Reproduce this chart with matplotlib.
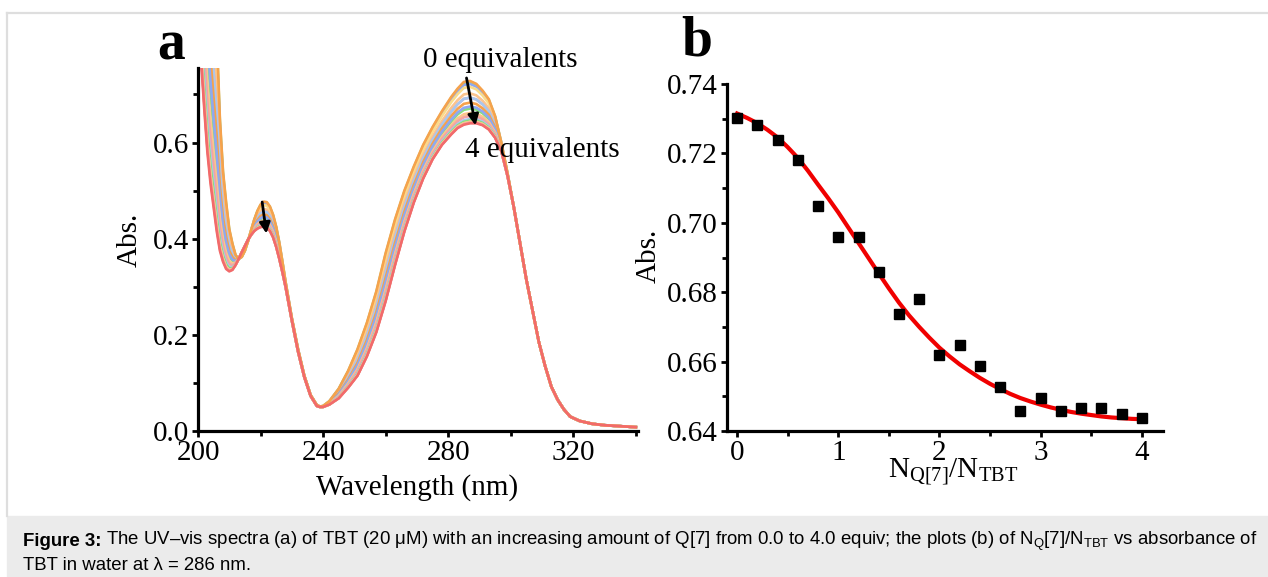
import matplotlib
matplotlib.use('Agg')
import numpy as np
import matplotlib.pyplot as plt
from matplotlib.patches import Rectangle
from matplotlib.lines import Line2D
from matplotlib.ticker import MultipleLocator, FormatStrFormatter

W, H = 1268, 577

# panel b: absorbance at 286 nm vs N_Q[7]/N_TBT
ratio = [0.0, 0.2, 0.4, 0.6, 0.8, 1.0, 1.2, 1.4, 1.6, 1.8, 2.0,
         2.2, 2.4, 2.6, 2.8, 3.0, 3.2, 3.4, 3.6, 3.8, 4.0]
abs286 = [0.7301, 0.7282, 0.7240, 0.7181, 0.7049, 0.6960, 0.6960, 0.6859,
          0.6738, 0.6779, 0.6618, 0.6649, 0.6588, 0.6527, 0.6458, 0.6496,
          0.6458, 0.6467, 0.6467, 0.6450, 0.6438]

# fitted curve (red)
fit_ratio = [0.0, 0.1, 0.2, 0.3, 0.4, 0.5, 0.6, 0.7, 0.8, 0.9, 1.0,
             1.1, 1.2, 1.3, 1.4, 1.5, 1.6, 1.7, 1.8, 1.9, 2.0,
             2.1, 2.2, 2.3, 2.4, 2.5, 2.6, 2.7, 2.8, 2.9, 3.0,
             3.1, 3.2, 3.3, 3.4, 3.5, 3.6, 3.7, 3.8, 3.9, 4.0]
fit_abs = [0.7315, 0.7302, 0.7287, 0.7268, 0.7246, 0.7218, 0.7187, 0.7150,
           0.7110, 0.7071, 0.7030, 0.6986, 0.6942, 0.6898, 0.6854, 0.6811,
           0.6770, 0.6733, 0.6700, 0.6669, 0.6640, 0.6615, 0.6592, 0.6572,
           0.6553, 0.6536, 0.6521, 0.6507, 0.6495, 0.6485, 0.6476, 0.6468,
           0.6461, 0.6455, 0.6450, 0.6446, 0.6442, 0.6439, 0.6437, 0.6435,
           0.6434]

# panel a: spectra at 0 and 4 equivalents
wavelength = [200, 201, 202, 203, 204, 205, 206, 207, 208, 209, 210, 211, 212,
              213, 214, 215, 216, 217, 218, 219, 220, 221, 222, 223, 224, 225,
              226, 227, 228, 230, 232, 234, 236, 238, 239, 240, 242, 245, 248,
              251, 254, 257, 260, 263, 266, 269, 272, 275, 278, 281, 283, 285,
              287, 289, 291, 293, 295, 297, 299, 301, 303, 305, 307, 309, 311,
              313, 315, 317, 319, 322, 326, 330, 335, 340]
abs_0eq = [1.60, 1.45, 1.30, 1.17, 1.05, 0.93, 0.82, 0.65, 0.54, 0.475, 0.42,
           0.39, 0.366, 0.358, 0.362, 0.375, 0.395, 0.418, 0.440, 0.458, 0.471,
           0.477, 0.476, 0.467, 0.450, 0.425, 0.392, 0.352, 0.310, 0.235, 0.170,
           0.115, 0.075, 0.054, 0.051, 0.052, 0.062, 0.088, 0.125, 0.170, 0.225,
           0.290, 0.370, 0.440, 0.500, 0.550, 0.595, 0.632, 0.665, 0.695, 0.712,
           0.726, 0.728, 0.722, 0.708, 0.690, 0.655, 0.600, 0.535, 0.465, 0.390,
           0.315, 0.250, 0.185, 0.135, 0.092, 0.065, 0.045, 0.030, 0.021, 0.015,
           0.012, 0.010, 0.008]
abs_4eq = [0.86, 0.77, 0.67, 0.58, 0.515, 0.465, 0.415, 0.375, 0.352, 0.337,
           0.332, 0.335, 0.345, 0.358, 0.372, 0.385, 0.398, 0.408, 0.416, 0.421,
           0.424, 0.425, 0.423, 0.416, 0.403, 0.383, 0.358, 0.330, 0.300, 0.230,
           0.165, 0.112, 0.073, 0.052, 0.050, 0.050, 0.055, 0.068, 0.090, 0.115,
           0.155, 0.205, 0.270, 0.345, 0.415, 0.475, 0.525, 0.565, 0.595, 0.617,
           0.630, 0.637, 0.640, 0.640, 0.636, 0.627, 0.610, 0.582, 0.530, 0.465,
           0.390, 0.315, 0.250, 0.185, 0.135, 0.092, 0.065, 0.045, 0.030, 0.021,
           0.015, 0.012, 0.010, 0.008]

palette = ['#f6a24c', '#86e07c', '#8ea8f0', '#f9dc8c', '#fbc48e', '#f3a4a4', '#a9c7ee']
last_color = '#f26a6a'

plt.rcParams['font.family'] = 'Liberation Serif'
plt.rcParams['mathtext.fontset'] = 'custom'
plt.rcParams['mathtext.rm'] = 'Liberation Serif'
plt.rcParams['mathtext.sf'] = 'Liberation Sans'


def px(x, y):
    return x / W, 1 - y / H


def style_axes(ax):
    for s in ['top', 'right']:
        ax.spines[s].set_visible(False)
    for s in ['left', 'bottom']:
        ax.spines[s].set_linewidth(2.3)
    ax.tick_params(which='major', direction='out', length=4.5, width=2.0,
                   labelsize=21, pad=2)
    ax.tick_params(which='minor', direction='out', length=3.5, width=2.0)


fig = plt.figure(figsize=(W / 100, H / 100), dpi=100)

# frame and caption box
fig.add_artist(Line2D([7 / W, 7 / W], [1 - 13 / H, 1 - 516 / H], color='#dedede', lw=1.6))
fig.add_artist(Line2D([7 / W, 1], [1 - 13 / H, 1 - 13 / H], color='#dedede', lw=1.6))
fig.add_artist(Rectangle(px(7, 577), (W - 7) / W, 61 / H, color='#ebebeb', zorder=0))

# ---- panel a
ax1 = fig.add_axes([198 / W, 1 - 431 / H, 440 / W, 363 / H])
a0 = np.array(abs_0eq)
a4 = np.array(abs_4eq)
n = len(abs286)
for i in range(n):
    # each titration spectrum sits between the 0 and 4 equiv spectra,
    # placed by its own absorbance at 286 nm (panel b)
    w = (abs286[i] - abs286[-1]) / (abs286[0] - abs286[-1])
    col = last_color if i == n - 1 else palette[i % len(palette)]
    z = 2.5 if i in (0, n - 1) else 2
    ax1.plot(wavelength, a4 + w * (a0 - a4), color=col, lw=1.9, zorder=z)
ax1.set_xlim(200, 340.7)
ax1.set_ylim(0, 0.755)
ax1.xaxis.set_major_locator(MultipleLocator(40))
ax1.xaxis.set_minor_locator(MultipleLocator(20))
ax1.yaxis.set_major_locator(MultipleLocator(0.2))
ax1.yaxis.set_minor_locator(MultipleLocator(0.1))
ax1.yaxis.set_major_formatter(FormatStrFormatter('%.1f'))
style_axes(ax1)

arrow = dict(arrowstyle='-|>', color='black', lw=2, mutation_scale=16)
ax1.annotate('', xy=(222.0, 0.405), xytext=(220.4, 0.482), arrowprops=arrow)
ax1.annotate('', xy=(288.9, 0.630), xytext=(285.7, 0.740), arrowprops=arrow,
             annotation_clip=False)

fig.text(*px(423, 60), '0 equivalents', fontsize=21, ha='left', va='center')
fig.text(*px(465, 150), '4 equivalents', fontsize=21, ha='left', va='center')
fig.text(*px(171, 45), 'a', fontsize=40, fontweight='bold', ha='center', va='center')
fig.text(*px(130, 240), 'Abs.', fontsize=21, rotation=90, ha='center', va='center')
fig.text(*px(417, 488), 'Wavelength (nm)', fontsize=21, ha='center', va='center')

# ---- panel b
ax2 = fig.add_axes([727 / W, 1 - 431 / H, 436 / W, 347 / H])
ax2.plot(fit_ratio, fit_abs, color='#f00000', lw=3, zorder=2)
ax2.plot(ratio, abs286, 's', color='black', ms=6.5, zorder=3)
ax2.set_xlim(-0.1, 4.21)
ax2.set_ylim(0.64, 0.74)
ax2.xaxis.set_major_locator(MultipleLocator(1))
ax2.xaxis.set_minor_locator(MultipleLocator(0.5))
ax2.yaxis.set_major_locator(MultipleLocator(0.02))
ax2.yaxis.set_minor_locator(MultipleLocator(0.01))
ax2.yaxis.set_major_formatter(FormatStrFormatter('%.2f'))
style_axes(ax2)

fig.text(*px(697, 42), 'b', fontsize=40, fontweight='bold', ha='center', va='center')
fig.text(*px(649, 256), 'Abs.', fontsize=21, rotation=90, ha='center', va='center')
fig.text(*px(953, 472), r'N$_{\mathregular{Q[7]}}$/N$_{\mathregular{TBT}}$',
         fontsize=21, ha='center', va='center')

# ---- caption
cap_font = 'Liberation Sans'
cap_size = 13.4
t = fig.text(*px(23, 541), 'Figure 3:', fontsize=cap_size, fontweight='bold',
             family=cap_font, ha='left', va='center')
fig.canvas.draw()
bb = t.get_window_extent()
fig.text(bb.x1 / W + 4 / W, 1 - 541 / H,
         r'The UV–vis spectra (a) of TBT (20 μM) with an increasing amount of Q[7] '
         r'from 0.0 to 4.0 equiv; the plots (b) of N$_{\mathsf{Q}}$[7]/N$_{\mathsf{TBT}}$ '
         r'vs absorbance of', fontsize=cap_size, family=cap_font, ha='left', va='center')
fig.text(*px(23, 566), 'TBT in water at λ = 286 nm.', fontsize=cap_size, family=cap_font,
         ha='left', va='center')

fig.savefig('out.png', dpi=100)
